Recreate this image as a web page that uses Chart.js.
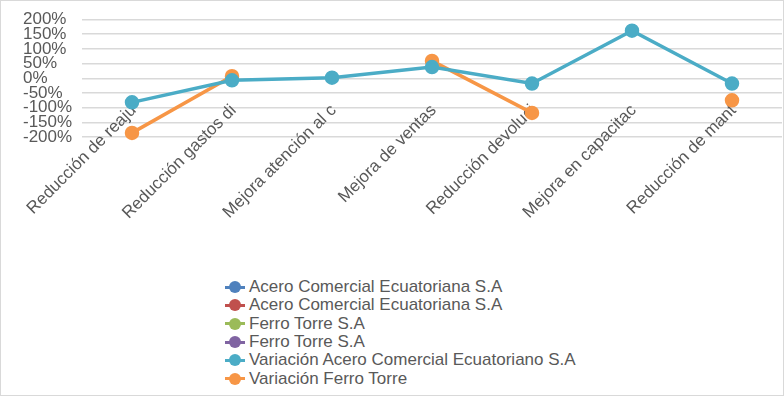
<!DOCTYPE html>
<html lang="es">
<head>
    <meta charset="utf-8">
    <title>Variación</title>
    <script src="https://cdn.jsdelivr.net/npm/chart.js"></script>
    <style>
        body {
            margin: 0;
            background: #ffffff;
            font-family: 'Liberation Sans', Arial, sans-serif;
        }
        .chart-box {
            position: relative;
            width: 784px;
            height: 396px;
            box-sizing: border-box;
            border: 1px solid #d9d9d9;
            overflow: hidden;
        }
        .canvas-wrap {
            position: absolute;
            left: 0;
            top: 0;
            width: 782px;
            height: 240px;
        }
        .legend {
            position: absolute;
            left: 224px;
            top: 277px;
            color: #595959;
            font-size: 17px;
        }
        .legend-item {
            display: flex;
            align-items: center;
            height: 18.3px;
            white-space: nowrap;
        }
        .legend-mark {
            position: relative;
            width: 20px;
            height: 12px;
            margin-right: 4px;
        }
        .legend-mark .ln {
            position: absolute;
            left: 0;
            right: 0;
            top: 4.5px;
            height: 3px;
        }
        .legend-mark .dot {
            position: absolute;
            left: 4px;
            top: 0;
            width: 12px;
            height: 12px;
            border-radius: 50%;
        }
    </style>
</head>
<body>
    <div class="chart-box">
        <div class="canvas-wrap"><canvas id="lineChart"></canvas></div>
        <div class="legend" id="legend-container"></div>
    </div>

    <script>
        const categorias = ['Reducción de reaju', 'Reducción gastos di', 'Mejora atención al c', 'Mejora de ventas', 'Reducción devoluci', 'Mejora en capacitac', 'Reducción de mant'];
        const aceroComercial1 = [null, null, null, null, null, null, null];
        const aceroComercial2 = [null, null, null, null, null, null, null];
        const ferroTorre1 = [null, null, null, null, null, null, null];
        const ferroTorre2 = [null, null, null, null, null, null, null];
        const variacionAcero = [-82, -7, 2, 38, -18, 162, -18];
        const variacionFerro = [-186, 7, null, 59, -118, null, -75];
        const ticksY = [-200, -150, -100, -50, 0, 50, 100, 150, 200];

        const series = [
            { label: 'Acero Comercial Ecuatoriana S.A', data: aceroComercial1, color: '#4f81bd' },
            { label: 'Acero Comercial Ecuatoriana S.A', data: aceroComercial2, color: '#c0504d' },
            { label: 'Ferro Torre S.A', data: ferroTorre1, color: '#9bbb59' },
            { label: 'Ferro Torre S.A', data: ferroTorre2, color: '#8064a2' },
            { label: 'Variación Acero Comercial Ecuatoriano S.A', data: variacionAcero, color: '#4bacc6' },
            { label: 'Variación Ferro Torre', data: variacionFerro, color: '#f79646' }
        ];

        const ctx = document.getElementById('lineChart').getContext('2d');
        const chart = new Chart(ctx, {
            type: 'line',
            data: {
                labels: categorias,
                datasets: series.map(s => ({
                    label: s.label,
                    data: s.data,
                    borderColor: s.color,
                    backgroundColor: s.color,
                    pointBackgroundColor: s.color,
                    pointBorderColor: s.color,
                    pointRadius: 5.5,
                    borderWidth: 3.5,
                    spanGaps: false,
                    tension: 0,
                    clip: false
                }))
            },
            options: {
                responsive: true,
                maintainAspectRatio: false,
                animation: false,
                layout: { autoPadding: false, padding: { left: 22, right: 1, top: 18, bottom: 69 } },
                plugins: {
                    legend: { display: false },
                    tooltip: { enabled: false }
                },
                scales: {
                    x: {
                        offset: true,
                        grid: { display: false, drawTicks: false },
                        border: { display: false },
                        afterFit: axis => {
                            axis.height = 35;
                            axis.paddingLeft = 0;
                            axis.paddingRight = 0;
                        },
                        ticks: {
                            color: '#595959',
                            font: { size: 17, family: 'Liberation Sans' },
                            maxRotation: 45,
                            minRotation: 45,
                            autoSkip: false,
                            // las etiquetas de Excel se montan sobre el área del gráfico
                            mirror: true,
                            padding: 22,
                            labelOffset: 16
                        }
                    },
                    y: {
                        min: -200,
                        max: 200,
                        afterBuildTicks: axis => { axis.ticks = ticksY.map(v => ({ value: v })); },
                        afterFit: axis => { axis.width = 59; },
                        grid: { color: '#d9d9d9', lineWidth: 1.5, drawTicks: false },
                        border: { display: false },
                        ticks: {
                            color: '#595959',
                            autoSkip: false,
                            padding: 10,
                            crossAlign: 'far',
                            font: { size: 17, family: 'Liberation Sans', lineHeight: 1 },
                            callback: v => v + '%'
                        }
                    }
                }
            }
        });

        // leyenda vertical como en la hoja original
        const legendContainer = document.getElementById('legend-container');
        series.forEach(s => {
            const item = document.createElement('div');
            item.className = 'legend-item';
            item.innerHTML = `
                <div class="legend-mark"><div class="ln" style="background:${s.color};"></div><div class="dot" style="background:${s.color};"></div></div>
                <span>${s.label}</span>
            `;
            legendContainer.appendChild(item);
        });
    </script>
</body>
</html>
